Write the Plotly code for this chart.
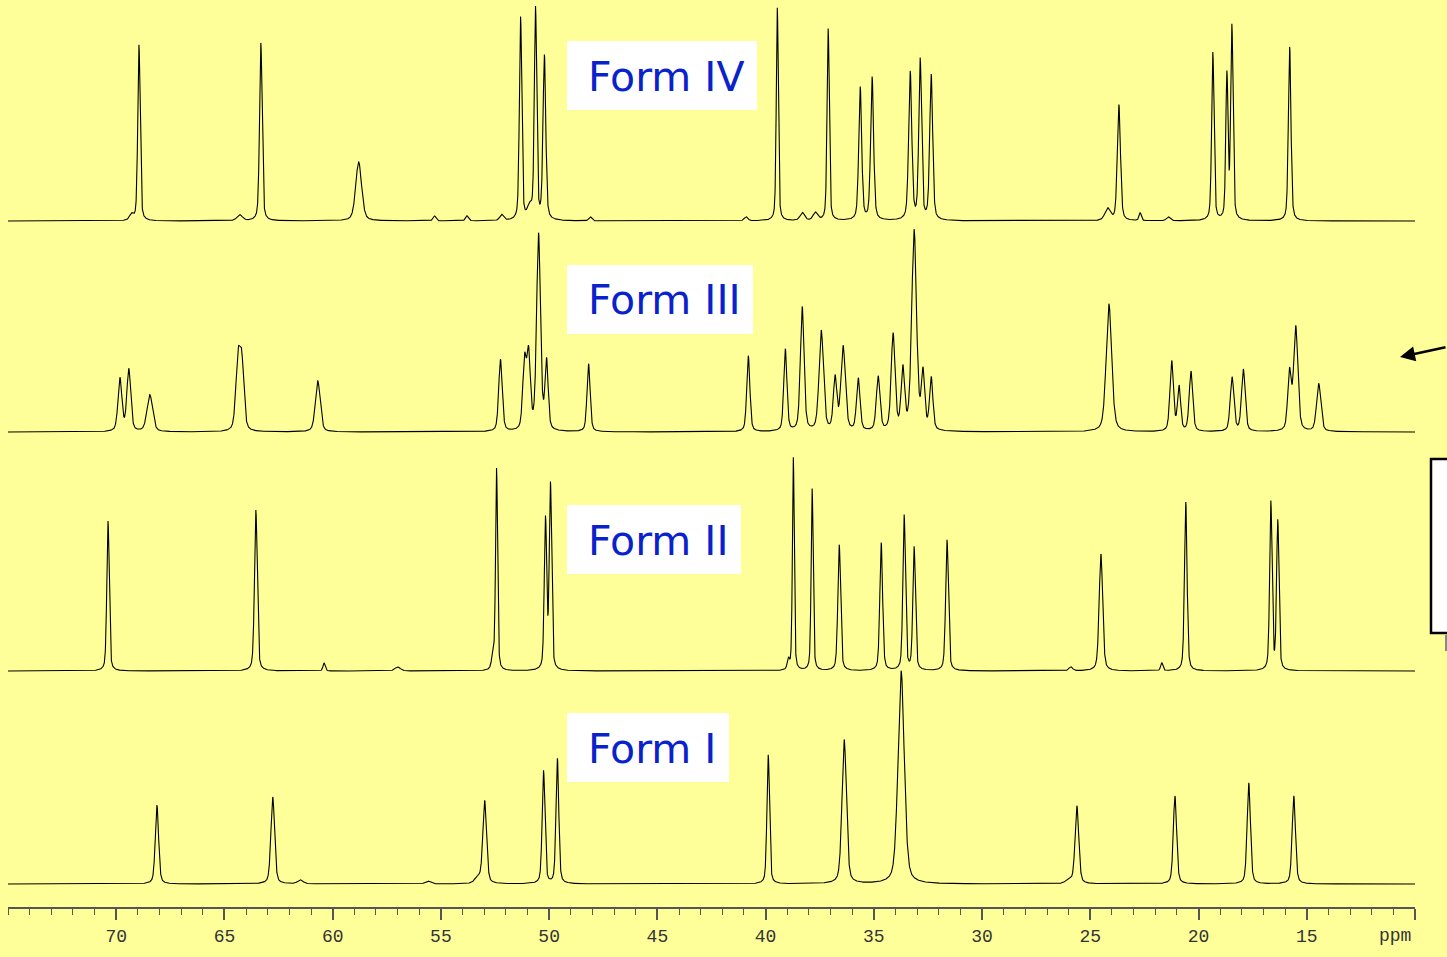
import numpy as np
import plotly.graph_objects as go

# ---------------- data ----------------
form4_ppm = [69.3, 68.95, 64.3, 63.32, 58.8, 55.3, 53.8, 52.2, 51.32, 50.9, 50.63, 50.22, 48.1,
             40.9, 39.46, 38.3, 37.7, 37.11, 35.63, 35.08, 33.32, 32.86, 32.35,
             24.2, 23.68, 22.7, 21.4, 19.34, 18.69, 18.46, 15.79]
form4_height = [6, 176, 6, 178, 59, 5, 5, 6, 203, 12, 211, 164, 4,
                4, 213, 8, 8, 192, 133, 143, 148, 160, 145,
                12, 116, 8, 4, 168, 144, 193, 174]
form4_width = [0.2, 0.13, 0.3, 0.14, 0.32, 0.15, 0.15, 0.2, 0.13, 0.25, 0.13, 0.15, 0.15,
               0.2, 0.11, 0.25, 0.25, 0.12, 0.16, 0.16, 0.17, 0.15, 0.16,
               0.3, 0.17, 0.12, 0.2, 0.13, 0.12, 0.13, 0.14]

form3_ppm = [69.83, 69.42, 68.45, 64.38, 64.2, 60.69, 52.25, 51.14, 50.95, 50.49, 50.12, 48.18,
             40.8, 39.09, 38.31, 37.43, 36.79, 36.42, 35.72, 34.80, 34.11, 33.66, 33.14, 32.73, 32.35,
             24.14, 21.24, 20.9, 20.35, 18.45, 17.93, 15.8, 15.51, 14.45]
form3_height = [53, 62, 37, 68, 66, 51, 72, 68, 74, 196, 68, 68,
                76, 82, 124, 100, 52, 84, 52, 54, 96, 60, 200, 56, 52,
                128, 70, 44, 60, 54, 62, 58, 104, 48]
form3_width = [0.21, 0.21, 0.3, 0.23, 0.23, 0.26, 0.19, 0.19, 0.19, 0.21, 0.17, 0.17,
               0.17, 0.17, 0.2, 0.24, 0.19, 0.24, 0.19, 0.2, 0.21, 0.19, 0.26, 0.18, 0.18,
               0.3, 0.19, 0.17, 0.19, 0.2, 0.2, 0.19, 0.23, 0.23]

form2_ppm = [70.38, 63.55, 60.4, 57.0, 52.6, 52.43, 50.17, 49.94,
             38.95, 38.72, 37.85, 36.6, 34.66, 33.6, 33.14, 31.62,
             25.9, 24.51, 21.7, 20.59, 16.66, 16.34]
form2_height = [150, 161, 8, 4, 12, 202, 150, 185,
                10, 213, 182, 126, 128, 155, 123, 131,
                4, 117, 8, 169, 168, 149]
form2_width = [0.13, 0.15, 0.12, 0.3, 0.15, 0.11, 0.13, 0.13,
               0.12, 0.1, 0.11, 0.15, 0.15, 0.14, 0.14, 0.15,
               0.2, 0.19, 0.12, 0.14, 0.13, 0.13]

form1_ppm = [68.12, 62.77, 61.5, 55.6, 53.3, 52.98, 50.26, 49.62,
             39.88, 36.37, 33.74, 26.0, 25.62, 21.09, 17.68, 15.6]
form1_height = [79, 87, 4, 3, 6, 83, 113, 125,
                129, 144, 213, 4, 78, 88, 101, 88]
form1_width = [0.18, 0.2, 0.3, 0.3, 0.3, 0.2, 0.15, 0.15,
               0.14, 0.24, 0.34, 0.3, 0.2, 0.18, 0.18, 0.18]

form_labels = ["Form IV", "Form III", "Form II", "Form I"]
tick_values = [70, 65, 60, 55, 50, 45, 40, 35, 30, 25, 20, 15, 10]
tick_labels = ["70", "65", "60", "55", "50", "45", "40", "35", "30", "25", "20", "15", ""]
unit_label = "ppm"

# ---------------- layout constants ----------------
W, H = 1447, 957
L, R, T, B = 8, 32, 0, 50
PH = H - T - B  # 907
baselines_px = [221, 432, 671, 884]
label_boxes_px = [(567, 41, 757, 110), (567, 265, 753, 334), (567, 505, 741, 574), (567, 713, 729, 782)]
ETA = 0.4  # Lorentzian fraction of the line shape

def px_to_paper_x(px):
    return (px - L) / (W - L - R)

def px_to_paper_y(py):
    return (PH - py) / PH

ppm = np.linspace(75, 10, 13001)

def spectrum(centers, heights, widths):
    y = np.zeros_like(ppm)
    for c, h, w in zip(centers, heights, widths):
        d = (ppm - c) / (w / 2)
        y += h * (ETA / (1 + d ** 2) + (1 - ETA) * np.exp(-np.log(2) * d ** 2))
    return y

series = [
    (form4_ppm, form4_height, form4_width),
    (form3_ppm, form3_height, form3_width),
    (form2_ppm, form2_height, form2_width),
    (form1_ppm, form1_height, form1_width),
]

fig = go.Figure()
for (c, h, w), bpx in zip(series, baselines_px):
    base = PH - bpx
    fig.add_trace(go.Scatter(x=ppm, y=spectrum(c, h, w) + base, mode="lines",
                             line=dict(color="black", width=1.1), showlegend=False,
                             hoverinfo="skip"))

shapes = []
annotations = []
for lab, (x0, y0, x1, y1) in zip(form_labels, label_boxes_px):
    shapes.append(dict(type="rect", xref="paper", yref="paper",
                       x0=px_to_paper_x(x0), x1=px_to_paper_x(x1),
                       y0=px_to_paper_y(y1), y1=px_to_paper_y(y0),
                       fillcolor="white", line=dict(width=0), layer="above"))
    annotations.append(dict(text=lab, xref="paper", yref="paper",
                            x=px_to_paper_x(586), y=px_to_paper_y((y0 + y1) / 2 + 1),
                            xanchor="left", yanchor="middle", showarrow=False,
                            font=dict(family="DejaVu Sans", size=41, color="#0a22cc")))

# right-edge box (cropped) and arrow
shapes.append(dict(type="rect", xref="paper", yref="paper",
                   x0=px_to_paper_x(1431), x1=px_to_paper_x(1470),
                   y0=px_to_paper_y(633), y1=px_to_paper_y(459),
                   fillcolor="white", line=dict(color="black", width=2.5), layer="above"))
shapes.append(dict(type="line", xref="paper", yref="paper",
                   x0=px_to_paper_x(1446), x1=px_to_paper_x(1446),
                   y0=px_to_paper_y(651), y1=px_to_paper_y(635),
                   line=dict(color="#888888", width=2)))
annotations.append(dict(xref="paper", yref="paper", x=px_to_paper_x(1400), y=px_to_paper_y(357),
                        ax=52, ay=-10, axref="pixel", ayref="pixel", showarrow=True,
                        arrowhead=2, arrowsize=1.2, arrowwidth=2.5, arrowcolor="black", text=""))
annotations.append(dict(text=unit_label, xref="paper", yref="paper",
                        x=px_to_paper_x(1395), y=px_to_paper_y(936),
                        xanchor="center", yanchor="middle", showarrow=False,
                        font=dict(family="Liberation Mono", size=18, color="#333333")))

fig.update_layout(
    width=W, height=H,
    margin=dict(l=L, r=R, t=T, b=B),
    paper_bgcolor="#ffff99", plot_bgcolor="#ffff99",
    shapes=shapes, annotations=annotations,
    xaxis=dict(range=[75, 10], showgrid=False, zeroline=False,
               showline=True, linecolor="#555555", linewidth=2,
               ticks="outside", ticklen=11, tickwidth=1.5, tickcolor="#555555",
               tickvals=tick_values, ticktext=tick_labels,
               tickfont=dict(family="Liberation Mono", size=18, color="#333333"),
               minor=dict(dtick=1, ticks="outside", ticklen=6, tickwidth=1, tickcolor="#555555")),
    yaxis=dict(range=[0, PH], visible=False, fixedrange=True),
)

fig.write_html("out.html", config={"displayModeBar": False},
               post_script="document.body.style.margin='0';document.body.style.background='#ffff99';")
